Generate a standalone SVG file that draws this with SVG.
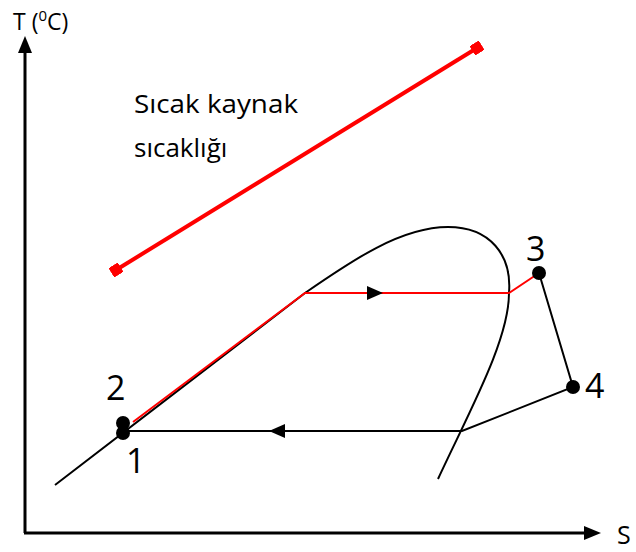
<svg xmlns="http://www.w3.org/2000/svg" width="636" height="552" viewBox="0 0 636 552">
<style>
.t{font-family:"Open Sans","Noto Sans","Liberation Sans",sans-serif;fill:#000}
.blk{fill:none;stroke:#000;stroke-width:2}
.red{fill:none;stroke:#f00;stroke-width:2}
.ax{fill:none;stroke:#000;stroke-width:3}
</style>
<defs>
<marker id="sq" viewBox="0 0 10 10" refX="5" refY="5" markerWidth="11" markerHeight="11" markerUnits="userSpaceOnUse" orient="auto">
<rect x="0" y="0" width="10" height="10" fill="#f00"/>
</marker>
</defs>
<g id="axes">
<line class="ax" x1="25" y1="533" x2="25" y2="50"/>
<polygon points="25,36 18,53 32,53" fill="#000"/>
<line class="ax" x1="24" y1="533" x2="585" y2="533"/>
<polygon points="601,533 584,526 584,540" fill="#000"/>
<text class="t" x="13" y="30" font-size="23">T (<tspan font-size="15" dy="-9">0</tspan><tspan dy="9">C)</tspan></text>
<text class="t" x="617" y="544" font-size="25">S</text>
</g>
<g id="hot-source">
<line x1="116" y1="270" x2="477" y2="48" stroke="#f00" stroke-width="4" marker-start="url(#sq)" marker-end="url(#sq)"/>
<text class="t" x="134" y="113" font-size="26" textLength="164" lengthAdjust="spacingAndGlyphs">Sıcak kaynak</text>
<text class="t" x="134" y="157" font-size="26">sıcaklığı</text>
</g>
<g id="dome">
<path class="blk" d="M55,485 L305,293 C350,262 400,227 448,227 C490,227 512,255 509,293 C509,340 470,410 438,479"/>
</g>
<g id="connectors">
<polyline class="red" points="133,422 305,293 509,293 539,273"/>
<polygon points="383,293 367,286 367,300" fill="#000"/>
<polyline class="blk" points="539,273 573,387 462,431 124,431"/>
<polygon points="269,431 285,424 285,438" fill="#000"/>
</g>
<g id="p1"><circle cx="123" cy="433" r="7"/><text class="t" x="126" y="473" font-size="34">1</text></g>
<g id="p2"><circle cx="123" cy="423" r="7"/><text class="t" x="106" y="400" font-size="34">2</text></g>
<g id="p3"><circle cx="539" cy="273" r="7"/><text class="t" x="526" y="261" font-size="34">3</text></g>
<g id="p4"><circle cx="573" cy="387" r="7"/><text class="t" x="585" y="398" font-size="34">4</text></g>
</svg>
